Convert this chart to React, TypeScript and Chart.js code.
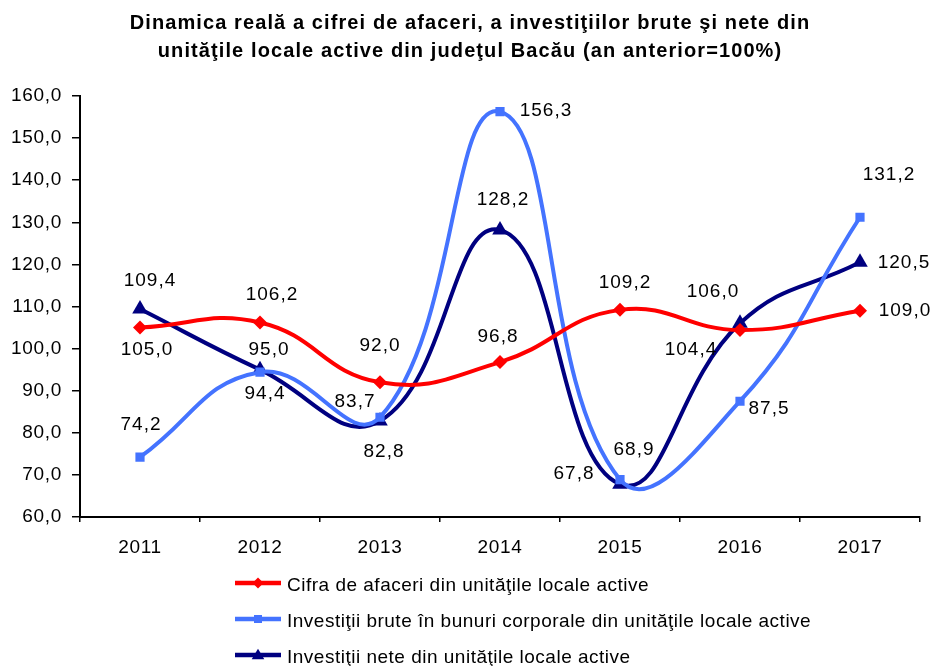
import React, { useEffect, useRef } from "react";
import { Chart, registerables } from "chart.js";

Chart.register(...registerables);

const categories = ["2011", "2012", "2013", "2014", "2015", "2016", "2017"];
const cifraAfaceri = [105.0, 106.2, 92.0, 96.8, 109.2, 104.4, 109.0];
const investitiiBrute = [74.2, 94.4, 83.7, 156.3, 68.9, 87.5, 131.2];
const investitiiNete = [109.4, 95.0, 82.8, 128.2, 67.8, 106.0, 120.5];

const seriesNames = [
  "Cifra de afaceri din unităţile locale active",
  "Investiţii brute în bunuri corporale din unităţile locale active",
  "Investiţii nete din unităţile locale active",
];
const titleLines = [
  "Dinamica reală a cifrei de afaceri, a investiţiilor brute şi nete din",
  "unităţile locale active din judeţul Bacău (an anterior=100%)",
];
const yMin = 60;
const yMax = 160;
const yStep = 10;

// label offsets relative to each point (dx, dy) in px
const labelOffsets = [
  [[7, 22], [12, -28], [0, -37], [-2, -25], [5, -27], [-49, 20], [45, 0]],
  [[1, -32], [5, 22], [-25, -15], [46, -1], [14, -30], [29, 8], [29, -42]],
  [[10, -28], [9, -20], [4, 31], [3, -30], [-46, -10], [-27, -32], [44, 0]],
];

const colors = ["#FF0000", "#4473FF", "#000080"];
const FONT = '"Liberation Sans", Arial, sans-serif';

const fmt = (v: number) => v.toFixed(1).replace(".", ",");

function drawMarker(ctx: CanvasRenderingContext2D, style: string, x: number, y: number, r: number, color: string) {
  ctx.save();
  ctx.fillStyle = color;
  ctx.beginPath();
  if (style === "rectRot") {
    ctx.moveTo(x, y - r);
    ctx.lineTo(x + r, y);
    ctx.lineTo(x, y + r);
    ctx.lineTo(x - r, y);
  } else if (style === "rect") {
    ctx.rect(x - r, y - r, 2 * r, 2 * r);
  } else {
    const h = r * 1.5;
    ctx.moveTo(x, y - h * 0.6);
    ctx.lineTo(x + r * 0.9, y + h * 0.4);
    ctx.lineTo(x - r * 0.9, y + h * 0.4);
  }
  ctx.closePath();
  ctx.fill();
  ctx.restore();
}

const customPlugin = {
  id: "custom",
  beforeDraw(chart: any) {
    const ctx = chart.ctx;
    ctx.save();
    ctx.fillStyle = "#fff";
    ctx.fillRect(0, 0, chart.width, chart.height);
    ctx.restore();
    ctx.letterSpacing = "0.7px";
  },
  afterDatasetsDraw(chart: any) {
    const ctx = chart.ctx;
    ctx.save();
    ctx.font = `19px ${FONT}`;
    ctx.letterSpacing = "1px";
    ctx.fillStyle = "#000";
    ctx.textAlign = "center";
    ctx.textBaseline = "middle";
    chart.data.datasets.forEach((ds: any, di: number) => {
      const meta = chart.getDatasetMeta(di);
      meta.data.forEach((pt: any, i: number) => {
        const [dx, dy] = labelOffsets[di][i];
        ctx.fillText(fmt(ds.data[i]), pt.x + dx, pt.y + dy);
      });
    });
    ctx.restore();
  },
  afterDraw(chart: any) {
    const ctx = chart.ctx;
    ctx.save();
    // title
    ctx.font = `bold 20px ${FONT}`;
    ctx.letterSpacing = "1.1px";
    ctx.fillStyle = "#000";
    ctx.textAlign = "center";
    ctx.textBaseline = "alphabetic";
    ctx.fillText(titleLines[0], 470, 29);
    ctx.fillText(titleLines[1], 470, 57);
    // legend
    ctx.font = `19px ${FONT}`;
    ctx.letterSpacing = "0.5px";
    ctx.textAlign = "left";
    const styles = ["rectRot", "rect", "triangle"];
    const sizes = [5.5, 4, 7];
    chart.data.datasets.forEach((ds: any, di: number) => {
      const y = 583 + di * 36;
      ctx.strokeStyle = ds.borderColor;
      ctx.lineWidth = 4.5;
      ctx.beginPath();
      ctx.moveTo(235, y);
      ctx.lineTo(281, y);
      ctx.stroke();
      drawMarker(ctx, styles[di], 258, y, sizes[di], ds.borderColor);
      ctx.fillStyle = "#000";
      ctx.fillText(ds.label, 287, y + 8);
    });
    ctx.restore();
  },
};

export default function App() {
  const ref = useRef<HTMLCanvasElement>(null);
  useEffect(() => {
    if (!ref.current) return;
    const tickFont = { family: FONT, size: 19 };
    const chart = new Chart(ref.current, {
      type: "line",
      data: {
        labels: categories,
        datasets: [
          { label: seriesNames[0], data: cifraAfaceri, pointStyle: "rectRot", pointRadius: 7 },
          { label: seriesNames[1], data: investitiiBrute, pointStyle: "rect", pointRadius: 6.5 },
          { label: seriesNames[2], data: investitiiNete, pointStyle: "triangle", pointRadius: 9 },
        ].map((d, i) => ({
          ...d,
          borderColor: colors[i],
          backgroundColor: colors[i],
          pointBackgroundColor: colors[i],
          pointBorderColor: colors[i],
          pointBorderWidth: 0,
          borderWidth: 4,
          tension: 0.45,
          fill: false,
        })),
      },
      options: {
        animation: false,
        responsive: false,
        devicePixelRatio: 1,
        layout: { padding: { top: 96, right: 10, bottom: 109, left: 0 } },
        plugins: {
          legend: { display: false },
          title: { display: false },
          tooltip: { enabled: false },
        },
        scales: {
          x: {
            type: "category",
            offset: true,
            grid: { offset: true, drawOnChartArea: false, drawTicks: true, tickLength: 5, color: "#000", lineWidth: 1.5 },
            border: { color: "#000", width: 2 },
            ticks: { color: "#000", font: tickFont, padding: 14, maxRotation: 0 },
            afterFit: (s: any) => { s.height = 40; },
          },
          y: {
            min: yMin,
            max: yMax,
            grid: { drawOnChartArea: false, drawTicks: true, tickLength: 8, color: "#000", lineWidth: 1.5 },
            border: { color: "#000", width: 2 },
            ticks: { color: "#000", font: tickFont, padding: 10, stepSize: yStep, callback: (v: any) => fmt(Number(v)) },
            afterFit: (s: any) => { s.width = 80; },
          },
        },
      },
      plugins: [customPlugin],
    } as any);
    return () => chart.destroy();
  }, []);
  return (
    <div style={{ position: "fixed", left: 0, top: 0, width: 930, height: 666, background: "#fff" }}>
      <canvas ref={ref} width={930} height={666} style={{ width: 930, height: 666, display: "block" }} />
    </div>
  );
}
